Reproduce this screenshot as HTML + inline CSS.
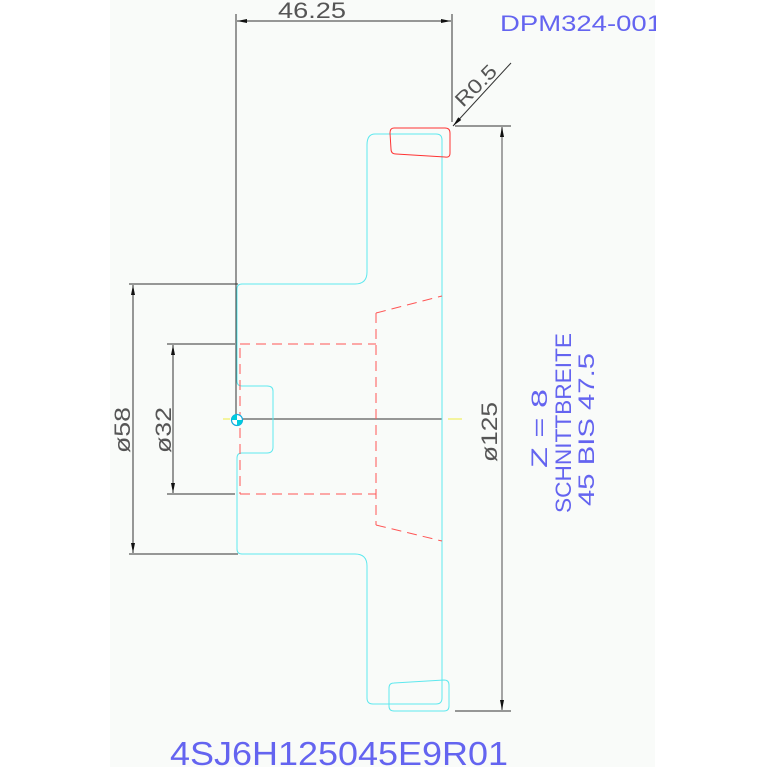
<!DOCTYPE html>
<html><head><meta charset="utf-8"><style>
html,body{margin:0;padding:0;background:#fff;}
svg{display:block;}
text{font-family:"Liberation Sans",sans-serif;}
</style></head><body>
<svg width="767" height="767" viewBox="0 0 767 767" xmlns="http://www.w3.org/2000/svg">
<rect x="0" y="0" width="767" height="767" fill="#ffffff"/>
<rect x="110" y="0" width="545" height="767" fill="#f9fbf9"/>
<defs>
<marker id="a" viewBox="0 0 10 4" refX="10" refY="2" markerWidth="12" markerHeight="4" markerUnits="userSpaceOnUse" orient="auto-start-reverse"><path d="M0,0L10,2L0,4z" fill="#111"/></marker>
</defs>
<g stroke="#333" stroke-width="1" fill="none">
<line x1="236" y1="14" x2="236" y2="419"/>
<line x1="452" y1="14" x2="452" y2="122"/>
<line x1="237" y1="21" x2="451" y2="21" marker-start="url(#a)" marker-end="url(#a)"/>
<line x1="511" y1="63" x2="453" y2="126" marker-end="url(#a)"/>
<line x1="455" y1="126" x2="511" y2="126"/>
<line x1="455" y1="711" x2="511" y2="711"/>
<line x1="502" y1="127" x2="502" y2="710" stroke="#888" stroke-width="1.5" marker-start="url(#a)" marker-end="url(#a)"/>
<line x1="129" y1="284" x2="238" y2="284"/>
<line x1="129" y1="554" x2="238" y2="554"/>
<line x1="133" y1="285" x2="133" y2="553" marker-start="url(#a)" marker-end="url(#a)"/>
<line x1="167" y1="344" x2="235" y2="344"/>
<line x1="167" y1="494" x2="235" y2="494"/>
<line x1="173" y1="345" x2="173" y2="493" marker-start="url(#a)" marker-end="url(#a)"/>
<line x1="236" y1="419" x2="442" y2="419"/>
</g>
<line x1="223" y1="419" x2="230" y2="419" stroke="#ee4" stroke-width="1"/>
<line x1="448" y1="419" x2="462" y2="419" stroke="#ee4" stroke-width="1"/>
<g stroke="#5ee8ee" stroke-width="1" fill="none">
<path d="M367,145 Q367,134 375,134 L436,134 Q442,134 442,140 L442,698 Q442,704 436,704 L373,704 Q367,704 367,698 L367,566 Q367,554 355,554 L242,554 Q237,554 237,549 L237,458 Q237,453 242,453 L267,453 Q273,453 273,447 L273,391 Q273,386 267,386 L242,386 Q237,386 237,381 L237,289 Q237,284 242,284 L355,284 Q367,284 367,272 Z"/>
<path d="M394,683 L444,680 Q449,680 449,685 L449,706 Q449,711 444,711 L394,711 Q389,711 389,706 L389,688 Q389,683 394,683 Z"/>
</g>
<path d="M394,128 L445,128 Q450,128 450,133 L450,153 Q450,158 445,157 L396,154 Q391,154 391,149 L390,133 Q390,128 394,128 Z" fill="none" stroke="#f33" stroke-width="1"/>
<g stroke="#f55" stroke-width="1" fill="none" stroke-dasharray="10,6">
<path d="M240,344 L376,344"/>
<path d="M240,494 L376,494"/>
<path d="M240,348 L240,494"/>
<path d="M376,313 L376,525"/>
<path d="M376,313 L442,296"/>
<path d="M376,525 L442,541"/>
</g>
<circle cx="237" cy="420" r="5.5" fill="#fff" stroke="#1ad" stroke-width="1.2"/>
<path d="M237,420 L237,414.5 A5.5,5.5 0 0 0 231.5,420 Z" fill="#0cd"/>
<path d="M237,420 L237,425.5 A5.5,5.5 0 0 0 242.5,420 Z" fill="#0cd"/>
<g fill="#555" font-size="22">
<text x="278" y="18" textLength="68" lengthAdjust="spacingAndGlyphs">46.25</text>
<text transform="translate(463,108) rotate(-45)" font-size="20" textLength="50" lengthAdjust="spacingAndGlyphs">R0.5</text>
<text transform="translate(130,453) rotate(-90)" textLength="46" lengthAdjust="spacingAndGlyphs">ø58</text>
<text transform="translate(171,453) rotate(-90)" textLength="46" lengthAdjust="spacingAndGlyphs">ø32</text>
<text transform="translate(497,462) rotate(-90)" textLength="60" lengthAdjust="spacingAndGlyphs">ø125</text>
</g>
<g fill="#6464f0" font-size="22">
<text transform="translate(547,468) rotate(-90)" textLength="79" lengthAdjust="spacingAndGlyphs">Z = 8</text>
<text transform="translate(571,513) rotate(-90)" textLength="180" lengthAdjust="spacingAndGlyphs">SCHNITTBREITE</text>
<text transform="translate(594,506) rotate(-90)" textLength="153" lengthAdjust="spacingAndGlyphs">45 BIS 47.5</text>
<text x="500" y="31" font-size="22" textLength="162" lengthAdjust="spacingAndGlyphs">DPM324-001</text>
<text x="170" y="765" font-size="33" textLength="338" lengthAdjust="spacingAndGlyphs">4SJ6H125045E9R01</text>
</g>
<rect x="656" y="0" width="111" height="60" fill="#fff"/>
</svg>
</body></html>
